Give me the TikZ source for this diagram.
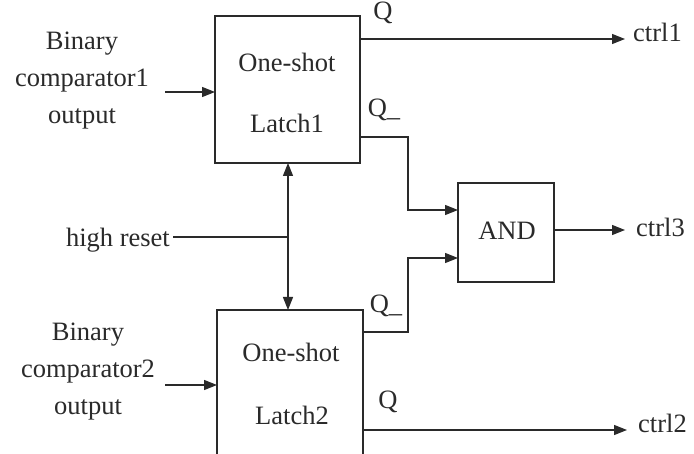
\documentclass[tikz,border=0pt]{standalone}
\usepackage{fontspec}
\setmainfont{Liberation Serif}
\usetikzlibrary{arrows.meta}
\definecolor{ink}{HTML}{2A2A2A}
\tikzset{
  blk/.style={draw=ink, line width=1.3pt, inner sep=0pt, outer sep=0pt},
  lbl/.style={text=ink, font=\fontsize{26.5}{37}\selectfont, inner sep=0pt, align=center},
  wire/.style={draw=ink, line width=1.2pt},
  arr/.style={wire, -{Triangle[length=13pt,width=10pt]}},
  darr/.style={wire, {Triangle[length=13pt,width=10pt]}-{Triangle[length=13pt,width=10pt]}}
}
\begin{document}
\begin{tikzpicture}[x=1pt,y=-1pt]
\clip (0,0) rectangle (694,454);
\fill[white] (0,0) rectangle (694,454);
% blocks
\node[blk, minimum width=145pt, minimum height=147pt] (L1) at (287.5,89.5) {};
\node[blk, minimum width=146pt, minimum height=160pt] (L2) at (290,390) {};
\node[blk, minimum width=96pt, minimum height=99pt] (AND) at (506,232.5) {};
% block texts
\node[lbl] (t1a) at (287,62) {One-shot};
\node[lbl] (t1b) at (287,123) {Latch1};
\node[lbl] (t2a) at (291,352) {One-shot};
\node[lbl] (t2b) at (292,415) {Latch2};
\node[lbl] (tand) at (507,231) {AND};
% input labels
\node[lbl] (in1t) at (82,81) {Binary\\comparator1\\output};
\node[lbl] (in2t) at (88,372) {Binary\\comparator2\\output};
\node[lbl, anchor=east] (hrt) at (170,240) {high reset};
% pin labels
\node[lbl] (q1) at (383,13) {Q};
\node[lbl] (q1n) at (384,110) {Q\_};
\node[lbl] (q2n) at (386,306) {Q\_};
\node[lbl] (q2) at (388,402) {Q};
% output labels
\node[lbl, anchor=west] (c1) at (633,32) {ctrl1};
\node[lbl, anchor=west] (c3) at (636,227) {ctrl3};
\node[lbl, anchor=west] (c2) at (638,423) {ctrl2};
% coordinates
\coordinate (i1) at (165,92);
\coordinate (i2) at (165,385);
\coordinate (o1) at (625,39);
\coordinate (o2) at (627,430);
\coordinate (o3) at (625,230);
\coordinate (hr) at (173,237);
\coordinate (j1) at (408,137);
\coordinate (j2) at (408,332);
\coordinate (a1) at (458,210);
\coordinate (a2) at (458,258);
\coordinate (rs) at (288,163);
% connectors
\draw[arr] (i1) -- (i1 -| L1.west);
\draw[arr] (i2) -- (i2 -| L2.west);
\draw[arr] (o1 -| L1.east) -- (o1);
\draw[arr] (o2 -| L2.east) -- (o2);
\draw[arr] (o3 -| AND.east) -- (o3);
\draw[arr] (j1 -| L1.east) -- (j1) -- (j1 |- a1) -- (a1 -| AND.west);
\draw[arr] (j2 -| L2.east) -- (j2) -- (j2 |- a2) -- (a2 -| AND.west);
\draw[darr] (rs) -- (rs |- L2.north);
\draw[wire] (hr) -- (hr -| rs);
\end{tikzpicture}
\end{document}
